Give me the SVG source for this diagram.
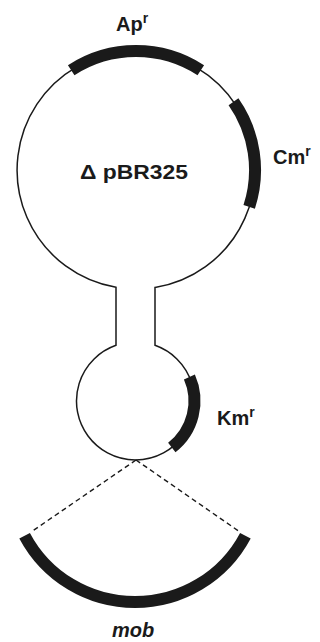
<svg xmlns="http://www.w3.org/2000/svg" width="320" height="642" viewBox="0 0 320 642">
  <style>
    .outline { fill: none; stroke: #1a1a1a; stroke-width: 1.5; }
    .gene { fill: none; stroke: #1a1a1a; stroke-width: 12; stroke-linecap: butt; }
    .dash { fill: none; stroke: #1a1a1a; stroke-width: 1.4; stroke-dasharray: 5 3.5; }
    .lbl { font-family: "Liberation Sans", Arial, sans-serif; font-weight: bold; font-size: 20px; fill: #1a1a1a; }
    .sup { font-size: 14px; }
    .ital { font-style: italic; }
  </style>
  <rect width="320" height="642" fill="#ffffff"/>

  <!-- plasmid backbone: large ring joined by a neck to a small ring -->
  <g id="plasmid">
    <path class="outline" d="M116 287.3 A119 119 0 1 1 155 287.5 L155 345.3 A59 59 0 1 1 116 345.3 Z"/>
    <text class="lbl" x="80" y="178.5" textLength="108" lengthAdjust="spacingAndGlyphs">Δ pBR325</text>
  </g>

  <g id="ap">
    <path class="gene" d="M71.2 70.2 A119 119 0 0 1 200.8 70.2"/>
    <text class="lbl" x="116" y="30.5">Ap<tspan class="sup" dy="-8">r</tspan></text>
  </g>

  <g id="cm">
    <path class="gene" d="M233.5 101.7 A119 119 0 0 1 249.2 206.8"/>
    <text class="lbl" x="273" y="163.5">Cm<tspan class="sup" dy="-8">r</tspan></text>
  </g>

  <g id="km">
    <path class="gene" d="M189.4 377 A59 59 0 0 1 171.8 447.5"/>
    <text class="lbl" x="217" y="424.5">Km<tspan class="sup" dy="-8">r</tspan></text>
  </g>

  <g id="mob">
    <path class="gene" d="M24.6 535.7 A125 125 0 0 0 245.4 535.7"/>
    <text class="lbl ital" x="112" y="637">mob</text>
  </g>

  <g id="connectors">
    <path class="dash" d="M136 460 L31 532"/>
    <path class="dash" d="M136 460 L240 532"/>
  </g>
</svg>
